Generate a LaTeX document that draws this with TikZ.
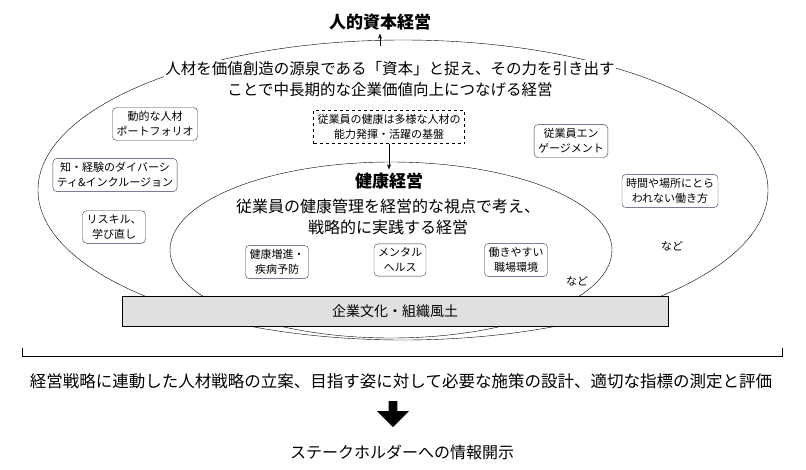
\documentclass[tikz,border=0pt]{standalone}
\usepackage{fontspec}
\setmainfont{Noto Sans CJK JP}
\usetikzlibrary{shapes.arrows,shapes.geometric,arrows.meta}
\definecolor{boxline}{HTML}{2F3B55}
\tikzset{
  tag/.style={draw=boxline, rounded corners=4pt, fill=white, align=center, font=\fontsize{11}{15}\selectfont, inner sep=4pt},
  big/.style={align=center, font=\fontsize{15.5}{21}\selectfont},
  pil/.style={draw, -{Stealth[length=5pt,width=4pt]}},
}
\begin{document}
\begin{tikzpicture}[x=1pt,y=-1pt]
\useasboundingbox (0,0) rectangle (806,469);
\node[draw, ellipse, minimum width=730, minimum height=300] (jinteki) at (403,190) {};
\node[draw, ellipse, fill=white, minimum width=442, minimum height=176] (kenko) at (391,250) {};
\node[draw, fill=black!12, minimum width=546, minimum height=30, font=\fontsize{14}{16}\selectfont] (bunka) at (395,311) {企業文化・組織風土};
\node[font=\bfseries\fontsize{17}{20}\selectfont] (t1) at (380,22) {人的資本経営};
\node[big, fill=white, inner sep=1pt] (d1) at (390,79) {人材を価値創造の源泉である「資本」と捉え、その力を引き出す\\ことで中長期的な企業価値向上につなげる経営};
\coordinate (d1top) at (380,46);
\node[tag, rounded corners=0pt, dashed, draw=black] (kiban) at (389,127) {従業員の健康は多様な人材の\\能力発揮・活躍の基盤};
\node[font=\bfseries\fontsize{17}{20}\selectfont] (t2) at (389,181) {健康経営};
\node[big, font=\fontsize{16}{21}\selectfont] (d2) at (388,217) {従業員の健康管理を経営的な視点で考え、\\戦略的に実践する経営};
\node[tag] (b1) at (155,124) {動的な人材\\ポートフォリオ};
\node[tag] (b2) at (115,175) {知・経験のダイバーシ\\ティ\&インクルージョン};
\node[tag] (b3) at (114,227) {リスキル、\\学び直し};
\node[tag] (b4) at (571,141) {従業員エン\\ゲージメント};
\node[tag] (b5) at (670,191) {時間や場所にとら\\われない働き方};
\node[tag] (b6) at (277,262) {健康増進・\\疾病予防};
\node[tag] (b7) at (400,260) {メンタル\\ヘルス};
\node[tag] (b8) at (516,260) {働きやすい\\職場環境};
\node[font=\fontsize{11}{12}\selectfont] (n1) at (577,281) {など};
\node[font=\fontsize{11}{12}\selectfont] (n2) at (672,246) {など};
\path[pil] (d1top) -- (t1.south);
\path[pil] (kiban.south) -- (t2.north);
\coordinate (bl) at (22,348);
\coordinate (br) at (782,348);
\path[draw] (bl) -- ++(0,8) -| (br);
\node[font=\fontsize{16.5}{18}\selectfont] (senryaku) at (401,381) {経営戦略に連動した人材戦略の立案、目指す姿に対して必要な施策の設計、適切な指標の測定と評価};
\node[single arrow, fill=black, rotate=-90, minimum height=26, minimum width=32, single arrow head extend=6pt, inner sep=2pt] (ya) at (393,412) {};
\node[font=\fontsize{16}{18}\selectfont] (kaiji) at (402,452) {ステークホルダーへの情報開示};
\end{tikzpicture}
\end{document}
